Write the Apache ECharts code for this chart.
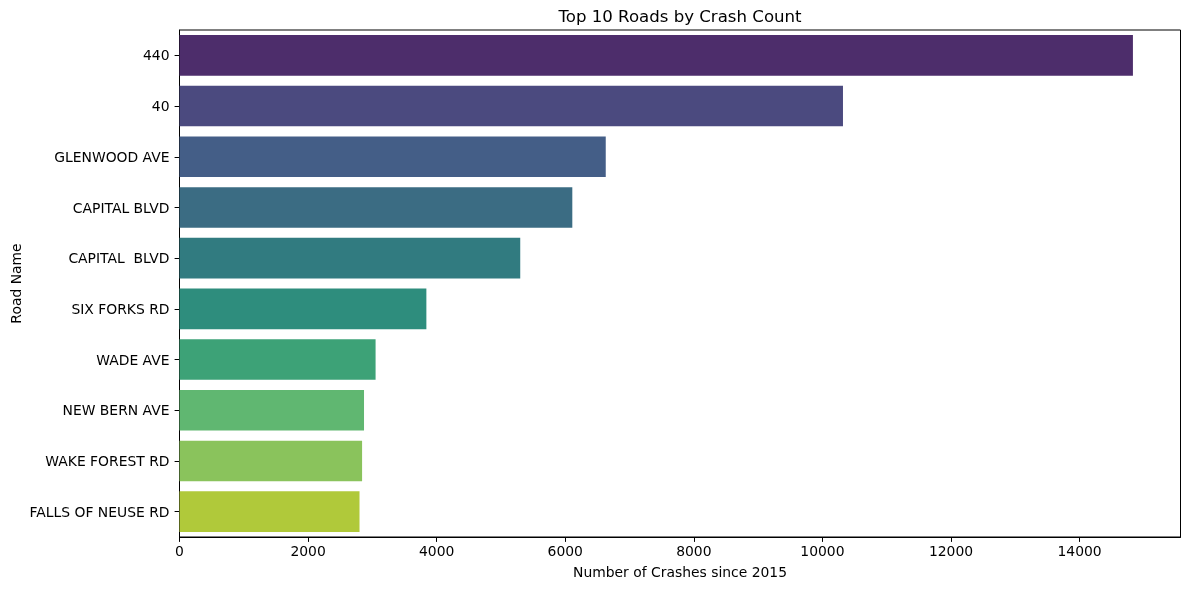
<!DOCTYPE html>
<html><head><meta charset="utf-8">
<script src="https://cdn.jsdelivr.net/npm/echarts@6/dist/echarts.min.js"></script>
<style>html,body{margin:0;padding:0;background:#fff}#c{width:1189px;height:590px}</style></head>
<body><div id="c"></div>
<script>
const categories = ["440","40","GLENWOOD AVE","CAPITAL BLVD","CAPITAL  BLVD","SIX FORKS RD","WADE AVE","NEW BERN AVE","WAKE FOREST RD","FALLS OF NEUSE RD"];
const crashes = [14830,10320,6630,6110,5300,3840,3050,2870,2840,2800];
const barColors = ["#4d2d6b","#4b4a7f","#445e87","#3b6c83","#317b80","#2e8d7d","#3da277","#60b771","#8ac35c","#b0c93a"];
const xTicks = [0,2000,4000,6000,8000,10000,12000,14000];
const font = "DejaVu Sans";
const chart = echarts.init(document.getElementById('c'), null, {renderer:'canvas'});
chart.setOption({
  animation:false,
  backgroundColor:'#fff',
  textStyle:{fontFamily:font},
  title:{text:'Top 10 Roads by Crash Count',left:675,top:4,textAlign:'center',
    textStyle:{fontFamily:font,fontSize:16.6,fontWeight:'normal',color:'#000'}},
  grid:{left:179.5,right:8.5,top:30,bottom:53,containLabel:false,outerBoundsMode:'none',
    show:true,borderColor:'#000',borderWidth:1,backgroundColor:'transparent'},
  xAxis:{type:'value',min:0,max:15570,interval:2000,
    name:'Number of Crashes since 2015',nameLocation:'middle',nameGap:29.5,nameMoveOverlap:false,
    nameTextStyle:{fontFamily:font,fontSize:13.9,color:'#000'},
    axisLine:{show:true,lineStyle:{color:'#000',width:1}},
    axisTick:{show:true,length:4.9,customValues:xTicks,lineStyle:{color:'#000',width:1}},
    axisLabel:{fontFamily:font,fontSize:13.9,color:'#000',margin:8.5,customValues:xTicks,
      formatter:v=>String(v)},
    splitLine:{show:false}},
  yAxis:{type:'category',inverse:true,data:categories,
    name:'Road Name',nameLocation:'middle',nameGap:155,nameRotate:90,nameMoveOverlap:false,
    nameTextStyle:{fontFamily:font,fontSize:13.9,color:'#000'},
    axisLine:{show:true,lineStyle:{color:'#000',width:1}},
    axisTick:{show:true,alignWithLabel:true,length:4.9,lineStyle:{color:'#000',width:1}},
    axisLabel:{fontFamily:font,fontSize:13.9,color:'#000',margin:10,verticalAlign:'top',lineHeight:3,
      formatter:v=>v.replace(/ /g,'\u00a0')},
    splitLine:{show:false}},
  series:[{type:'bar',barWidth:'80%',
    data:crashes.map((v,i)=>({value:v,itemStyle:{color:barColors[i]}}))}]
});
</script></body></html>
